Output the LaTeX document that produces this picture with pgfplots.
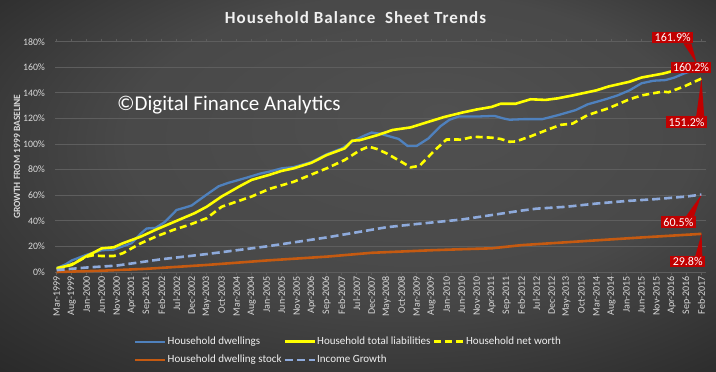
\documentclass[border=0pt]{standalone}
\usepackage{pgfplots}
\pgfplotsset{compat=1.18}
\usepackage{fontspec}
\setmainfont{Carlito}
\definecolor{bgin}{HTML}{505050}
\definecolor{bgout}{HTML}{1E1E1E}
\definecolor{dwblue}{HTML}{4F81BD}
\definecolor{incblue}{HTML}{8EAADB}
\definecolor{stockorange}{HTML}{C55A11}
\definecolor{gridgray}{HTML}{5E5E5E}
\definecolor{boxred}{HTML}{C00000}
\definecolor{lyellow}{HTML}{FFFF00}
\definecolor{ticktext}{HTML}{D9D9D9}
\pgfdeclareradialshading{bgshade}{\pgfpoint{6bp}{10bp}}{color(0bp)=(bgin); color(20bp)=(bgin!85!bgout); color(45bp)=(bgout); color(50bp)=(bgout)}
\begin{document}
\begin{tikzpicture}
\shade[shading=bgshade] (0,0) rectangle (716pt,372pt);
\node[anchor=base, font=\bfseries\fontsize{17}{20}\selectfont\addfontfeatures{LetterSpace=6}, text=white!94!black] at (355.5pt,348.7pt) {Household Balance\ \ Sheet Trends};
\node[rotate=90, font=\bfseries\fontsize{9.5}{11}\selectfont, text=ticktext] at (17pt,215.3pt) {GROWTH FROM 1999 BASELINE};
\begin{axis}[
  at={(55.2pt,100pt)}, anchor=south west,
  width=650.8pt, height=230.3pt, scale only axis,
  xmin=-0.5, xmax=216.5, ymin=0, ymax=180,
  clip=false,
  axis line style={draw=none},
  ymajorgrids, grid style={gridgray, line width=0.8pt},
  ytick={0,20,...,180},
  yticklabels={0\%,20\%,40\%,60\%,80\%,100\%,120\%,140\%,160\%,180\%},
  ytick style={draw=none},
  yticklabel style={font=\fontsize{9.8}{11}\selectfont, text=ticktext, inner sep=0pt, xshift=-7pt},
  xtick={0,5,...,215},
  xticklabels={Mar-1999,Aug-1999,Jan-2000,Jun-2000,Nov-2000,Apr-2001,Sep-2001,Feb-2002,Jul-2002,Dec-2002,May-2003,Oct-2003,Mar-2004,Aug-2004,Jan-2005,Jun-2005,Nov-2005,Apr-2006,Sep-2006,Feb-2007,Jul-2007,Dec-2007,May-2008,Oct-2008,Mar-2009,Aug-2009,Jan-2010,Jun-2010,Nov-2010,Apr-2011,Sep-2011,Feb-2012,Jul-2012,Dec-2012,May-2013,Oct-2013,Mar-2014,Aug-2014,Jan-2015,Jun-2015,Nov-2015,Apr-2016,Sep-2016,Feb-2017},
  xtick style={draw=gridgray, line width=0.8pt},
  tick align=outside, major tick length=3pt,
  xticklabel style={rotate=90, anchor=east, font=\fontsize{10}{12}\selectfont, text=ticktext, inner sep=1pt},
  legend columns=3,
  legend cell align=left,
  legend style={draw=none, fill=none, text=white!94!black, font=\fontsize{11}{13}\selectfont,
    at={(0.121,-0.278)}, anchor=north west, inner sep=0pt, row sep=7pt,
    nodes={inner sep=1pt},
    /tikz/every even column/.append style={column sep=1pt}},
  legend image code/.code={\draw[#1] (0pt,0pt) -- (30pt,0pt);},
]
\addplot[dwblue, line width=2.3pt, line join=round] coordinates {
(0,3)(3,6)(5,9)(10,13.5)(15,17)(19,17.5)(22,20)(25,22.5)(28,30)(30,34)(33,34.5)(36,39)(40,48.5)(43,50.5)(45,52)(50,60.5)(54,67)(57,69.5)(60,71.5)(63,73.5)(68,77)(71,78.5)(75,81)(79,82)(85,86)(90,92)(95,96.5)(99,102.5)(102,106)(105,109)(108,108)(111,106)(114,104)(117,98.5)(120,98.5)(124,104.5)(128,114)(131,119)(134,121.5)(140,121.5)(146,122)(149,120)(151,119)(156,119.5)(162,119.5)(167,122.5)(173,126.5)(177,131)(183,135)(187,138)(191,142)(195,147.5)(199,149.5)(203,150)(206,152)(209,155)(212,157.5)(215,160.2)};
\addlegendentry{Household dwellings}
\addplot[lyellow, line width=2.6pt, line join=round] coordinates {
(0,3)(5,5.5)(10,12.5)(13,16)(15,18.5)(19,19.3)(22,22.4)(28,27.6)(33,33)(37,37)(42,42)(46,46)(50,51)(55,59)(61,67)(65,72)(71,76)(75,79)(79,81)(85,85.4)(90,91.4)(96,96.6)(98.5,102.6)(101,103)(107,107)(112,111)(118,113)(124,117.4)(129,121)(135,124.5)(140,127)(145,129)(148,131.5)(153,131.5)(158,135)(163,134.5)(167,135.7)(172,138)(176,140)(180,142)(184,145)(191,148.7)(195,152)(202,155)(207,158)(211,160.4)(215,161.9)};
\addlegendentry{Household total liabilities}
\addplot[lyellow, line width=2.6pt, dash pattern=on 7pt off 4pt, line join=round] coordinates {
(0,2)(5,6)(10,12)(12,13)(15,12.5)(19,12.5)(22,14.6)(28,22.4)(33,27.6)(39,33)(44,36.7)(50,42)(55,51)(60,55)(65,59)(68,62)(71,65)(79,70.5)(90,81)(96,87.5)(101,95)(104,98)(107,96)(110,92.7)(115,86)(118,81.8)(121,83)(126,95)(130,103.6)(135,103.5)(139,105.7)(145,105)(148,104)(151,101.8)(153,102)(158,106)(164,111.5)(168,115)(172,116)(177,122.6)(184,128)(191,135)(195,138)(202,141)(204,140.5)(209,144.8)(215,151.2)};
\addlegendentry{Household net worth}
\addplot[stockorange, line width=2.6pt, line join=round] coordinates {
(0,0)(15,1)(30,2.5)(50,5.5)(70,9)(90,12)(105,15)(125,17)(135,17.8)(145,18.5)(155,21)(175,24)(195,27)(215,29.8)};
\addlegendentry{Household dwelling stock}
\addplot[incblue, line width=2.6pt, dash pattern=on 8pt off 4pt, line join=round] coordinates {
(0,1.5)(10,3.5)(20,5)(35,10)(50,14)(70,20)(90,27)(105,33)(110,35)(120,37.5)(135,41)(145,44.5)(155,48)(160,49.5)(170,51)(180,53.5)(190,55.5)(200,57)(210,59)(215,60.5)};
\addlegendentry{Income Growth}
\node[anchor=base west, inner sep=0pt, text=white, font=\fontsize{21}{24}\selectfont] at (axis cs:20.1,126.6) {©Digital Finance Analytics};
\tikzset{redbox/.style={fill=boxred, text=white, font=\fontsize{12}{14}\selectfont, inner xsep=2.5pt, inner ysep=1.5pt}}
\node[redbox] (b1) at (axis cs:205.4,183.2) {161.9\%};
\fill[boxred] ([xshift=-10pt]b1.south east) -- ([xshift=-2pt]b1.south east) -- (axis cs:213.5,162.5) -- cycle;
\node[redbox] (b2) at (axis cs:211.5,159.8) {160.2\%};
\node[redbox] (b3) at (axis cs:210,117.2) {151.2\%};
\fill[boxred] ([xshift=-11pt]b3.north east) -- ([xshift=-3pt]b3.north east) -- (axis cs:215,151.2) -- cycle;
\node[redbox] (b4) at (axis cs:207.3,39) {60.5\%};
\fill[boxred] ([xshift=-10pt]b4.north east) -- ([xshift=-2pt]b4.north east) -- (axis cs:215,60.5) -- cycle;
\node[redbox] (b5) at (axis cs:210.4,8) {29.8\%};
\fill[boxred] ([xshift=-10pt]b5.north east) -- ([xshift=-3pt]b5.north east) -- (axis cs:215,29.8) -- cycle;
\end{axis}
\pgfresetboundingbox
\useasboundingbox (0,0) rectangle (716pt,372pt);
\end{tikzpicture}
\end{document}
